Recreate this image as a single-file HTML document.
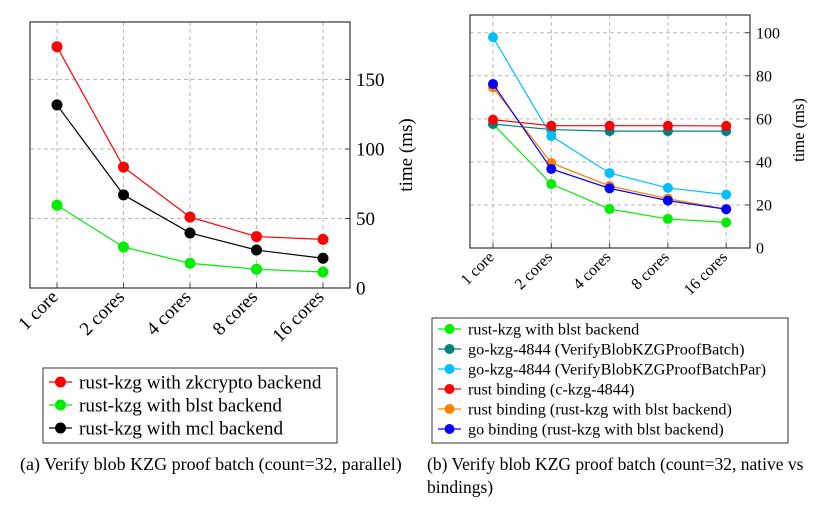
<!DOCTYPE html>
<html><head><meta charset="utf-8"><style>
body{margin:0;background:#fff;}
svg{display:block;font-family:"Liberation Serif",serif;}
</style></head><body>
<svg id="s" width="830" height="505" viewBox="0 0 830 505">
<g id="chartA"></g>
<g id="chartB"></g>
<text x="20" y="470" font-size="18">(a) Verify blob KZG proof batch (count=32, parallel)</text>
<text x="427" y="470" font-size="17.5">(b) Verify blob KZG proof batch (count=32, native vs</text>
<text x="427" y="493" font-size="17.5">bindings)</text>
</svg>
<script>
const categories=["1 core","2 cores","4 cores","8 cores","16 cores"];
const aNames=["rust-kzg with zkcrypto backend","rust-kzg with blst backend","rust-kzg with mcl backend"];
const aColors=["#ff0000","#00ee00","#000000"];
const aZk=[173.6,87,51,37,35];
const aBlst=[59.5,29.5,17.8,13.5,11.5];
const aMcl=[131.7,67,39.6,27.3,21.4];
const aTicks=[0,50,100,150];
const bNames=["rust-kzg with blst backend","go-kzg-4844 (VerifyBlobKZGProofBatch)","go-kzg-4844 (VerifyBlobKZGProofBatchPar)","rust binding (c-kzg-4844)","rust binding (rust-kzg with blst backend)","go binding (rust-kzg with blst backend)"];
const bColors=["#00ee00","#008080","#00bfff","#ff0000","#ff8000","#0000ff"];
const bBlst=[57.6,29.7,18.1,13.5,11.9];
const bGoBatch=[57.6,55,54.3,54.3,54.3];
const bGoPar=[97.9,52,34.8,27.9,24.8];
const bRustC=[59.6,56.8,56.8,56.8,56.7];
const bRustBlst=[74.6,39.5,28.8,22.9,18.1];
const bGoBind=[76.2,36.7,27.7,22,18];
const bTicks=[0,20,40,60,80,100];
const NS="http://www.w3.org/2000/svg";
function mk(p,t,a,txt){const e=document.createElementNS(NS,t);for(const k in a)e.setAttribute(k,a[k]);if(txt!=null)e.textContent=txt;p.appendChild(e);return e;}
function chart(g,o){
  const cx=i=>o.cx0+i*o.cdx;
  const ysc=v=>o.yz-v*o.k;
  categories.forEach((c,i)=>{
    const l=mk(g,'line',{x1:cx(i),x2:cx(i),y1:o.top,y2:o.yz,stroke:'#bbb','stroke-dasharray':'4,3'});
    
    const t=mk(g,'line',{x1:cx(i),x2:cx(i),y1:o.yz,y2:o.yz-5,stroke:'#444'});
    
    const lb=mk(g,'text',{x:cx(i)+2,y:o.yz+10,'font-size':o.fs,'text-anchor':'end',transform:`rotate(-45 ${cx(i)+2} ${o.yz+10})`},c);
    
  });
  o.ticks.forEach(v=>{
    if(v>0){const l=mk(g,'line',{x1:o.left,x2:o.right,y1:ysc(v),y2:ysc(v),stroke:'#bbb','stroke-dasharray':'4,3'});
    }
    const t=mk(g,'line',{x1:o.right,x2:o.right-5,y1:ysc(v),y2:ysc(v),stroke:'#444'});
    
    const lb=mk(g,'text',{x:o.right+6,y:ysc(v)+o.fs*0.35,'font-size':o.fs},String(v));
    
  });
  const r=mk(g,'rect',{x:o.left,y:o.top,width:o.right-o.left,height:o.yz-o.top,fill:'none',stroke:'#333','stroke-width':1.2});
  
  const yt=mk(g,'text',{x:o.tx,y:o.ty,'font-size':o.tfs,'text-anchor':'middle',transform:`rotate(-90 ${o.tx} ${o.ty})`},'time (ms)');
  
  o.series.forEach((s,j)=>{
    const pts=s.map((v,i)=>cx(i)+','+ysc(v)).join(' ');
    const pl=mk(g,'polyline',{points:pts,fill:'none',stroke:o.colors[j],'stroke-width':1.2});
    
    s.forEach((v,i)=>{const c=mk(g,'circle',{cx:cx(i),cy:ysc(v),r:o.mr,fill:o.colors[j]});
      });
  });
  const lg=mk(g,'rect',{x:o.lx,y:o.ly,width:o.lw,height:o.lh,fill:'#fff',stroke:'#333'});
  
  o.names.forEach((n,j)=>{
    const y=o.ly+o.lrow0+j*o.ldy;
    const l=mk(g,'line',{x1:o.lx+6,x2:o.lx+29,y1:y,y2:y,stroke:o.colors[j],'stroke-width':1.2});
    
    const c=mk(g,'circle',{cx:o.lx+17.5,cy:y,r:o.mr,fill:o.colors[j]});
    
    const t=mk(g,'text',{x:o.lx+36,y:y+o.lfs*0.33,'font-size':o.lfs},n);
    
  });
}
chart(document.getElementById('chartA'),{cx0:57,cdx:66.5,yz:288,k:1.39,top:22,left:30,right:350,fs:19,tfs:19,ticks:aTicks,
  tx:412,ty:155,series:[aZk,aBlst,aMcl],colors:aColors,names:aNames,mr:5.5,
  lx:43,ly:368,lw:294,lh:75,lrow0:14,ldy:23,lfs:19.2});
chart(document.getElementById('chartB'),{cx0:493,cdx:58.3,yz:248,k:2.153,top:15,left:470,right:750,fs:16,tfs:16.5,ticks:bTicks,
  tx:804,ty:130,series:[bBlst,bGoBatch,bGoPar,bRustC,bRustBlst,bGoBind],colors:bColors,names:bNames,mr:5,
  lx:432,ly:318,lw:356,lh:125,lrow0:11,ldy:20,lfs:16.2});
</script>
</body></html>
